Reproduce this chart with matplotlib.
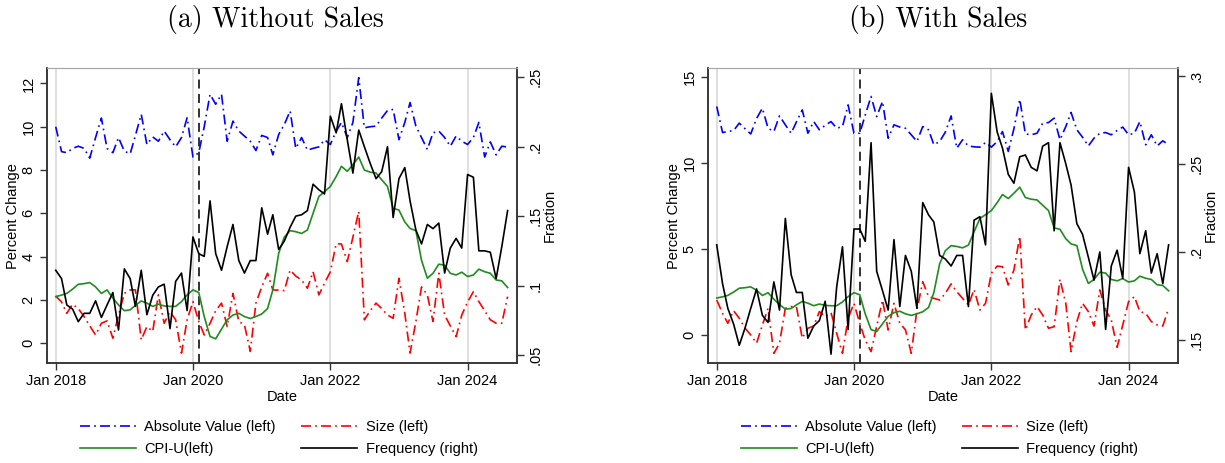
import matplotlib
matplotlib.use('Agg')
import matplotlib.pyplot as plt
import pandas as pd

# monthly series, Jan 2018 - Aug 2024
dates = pd.date_range('2018-01-01', periods=80, freq='MS')

cpi = [2.15, 2.22, 2.3, 2.5, 2.72, 2.75, 2.8, 2.6, 2.3, 2.46,
       2.08, 1.77, 1.5, 1.54, 1.75, 1.95, 1.85, 1.7, 1.8, 1.72,
       1.7, 1.7, 1.92, 2.23, 2.46, 2.34, 1.23, 0.31, 0.2, 0.65,
       1.08, 1.3, 1.38, 1.23, 1.14, 1.23, 1.35, 1.6, 2.46, 4.15,
       4.9, 5.2, 5.15, 5.07, 5.23, 6.0, 6.78, 7.0, 7.24, 7.7,
       8.17, 7.94, 8.25, 8.6, 8.0, 7.9, 7.86, 7.55, 7.24, 6.23,
       6.15, 5.6, 5.3, 5.2, 3.83, 3.0, 3.23, 3.65, 3.6, 3.23,
       3.15, 3.28, 3.08, 3.15, 3.42, 3.3, 3.23, 2.92, 2.88, 2.57]

# (a) without sales
abs_nosale = [10.0, 8.85, 8.8, 9.0, 9.1, 9.0, 8.55, 9.5, 10.4, 9.0,
              8.8, 9.5, 8.87, 8.75, 9.6, 10.57, 9.18, 9.53, 9.33, 9.8,
              9.4, 9.07, 9.5, 10.42, 8.6, 8.8, 10.0, 11.5, 11.04, 11.5,
              9.33, 10.26, 9.8, 9.57, 9.33, 8.9, 9.6, 9.5, 8.7, 9.64,
              10.1, 10.73, 9.0, 9.5, 8.92, 9.0, 9.07, 9.4, 9.18, 9.8,
              10.2, 9.5, 10.2, 12.27, 9.95, 10.0, 10.03, 10.4, 10.75, 10.8,
              9.4, 10.2, 11.12, 10.03, 9.5, 8.95, 9.72, 9.8, 9.5, 9.1,
              9.57, 9.33, 9.18, 9.5, 10.2, 8.6, 9.3, 8.7, 9.1, 9.06]
size_nosale = [2.18, 1.9, 1.38, 1.8, 1.6, 1.23, 0.8, 0.38, 0.92, 1.03,
               0.23, 1.3, 2.3, 2.46, 2.46, 0.15, 0.77, 0.54, 2.23, 0.92,
               1.46, 1.08, -0.46, 1.08, 1.92, 1.0, 0.38, 0.92, 1.5, 1.85,
               0.77, 2.3, 1.0, 0.85, -0.38, 1.85, 2.6, 3.23, 2.46, 2.45,
               2.43, 3.38, 3.1, 2.92, 2.54, 3.3, 2.23, 2.77, 3.3, 4.6,
               4.58, 3.77, 4.9, 6.09, 1.08, 1.5, 1.85, 1.6, 1.3, 1.15,
               3.0, 1.38, -0.46, 1.0, 2.6, 2.23, 1.0, 3.23, 1.3, 0.8,
               0.3, 1.3, 1.9, 2.38, 1.92, 1.5, 1.08, 0.92, 0.92, 2.15]
freq_nosale = [0.111, 0.105, 0.086, 0.083, 0.074, 0.080, 0.080, 0.089, 0.077, 0.086,
               0.095, 0.068, 0.112, 0.105, 0.085, 0.111, 0.079, 0.093, 0.099, 0.101,
               0.069, 0.103, 0.109, 0.082, 0.135, 0.123, 0.121, 0.161, 0.123, 0.111,
               0.128, 0.144, 0.118, 0.109, 0.118, 0.118, 0.156, 0.137, 0.151, 0.126,
               0.132, 0.142, 0.150, 0.151, 0.154, 0.173, 0.169, 0.166, 0.222, 0.210,
               0.231, 0.205, 0.181, 0.212, 0.200, 0.188, 0.177, 0.182, 0.200, 0.149,
               0.177, 0.185, 0.161, 0.140, 0.130, 0.144, 0.141, 0.145, 0.109, 0.127,
               0.134, 0.127, 0.180, 0.178, 0.125, 0.125, 0.124, 0.105, 0.128, 0.154]

# (b) with sales
abs_sale = [13.3, 11.78, 11.84, 11.9, 12.33, 12.0, 11.7, 12.6, 13.2, 12.03,
            11.84, 12.75, 12.23, 11.74, 12.4, 13.1, 11.74, 12.42, 11.94, 12.2,
            12.42, 12.03, 12.13, 13.39, 11.74, 11.74, 12.8, 13.88, 12.71, 13.59,
            11.45, 12.23, 12.1, 12.03, 11.65, 11.26, 12.13, 11.94, 11.07, 11.26,
            11.8, 12.75, 10.87, 11.36, 11.0, 10.95, 10.93, 11.2, 10.93, 11.26,
            11.84, 10.68, 12.0, 13.72, 11.7, 11.65, 11.74, 12.33, 12.36, 12.62,
            11.36, 12.13, 12.95, 11.94, 11.51, 11.0, 11.45, 11.74, 11.78, 11.65,
            11.9, 12.1, 11.65, 11.74, 12.42, 11.07, 11.65, 11.0, 11.3, 11.07]
size_sale = [2.03, 1.26, 0.68, 1.41, 0.97, 0.39, 0.0, -0.48, 0.58, 1.55,
             -1.07, -0.48, 1.55, 1.65, 1.65, -0.19, 0.39, 0.52, 1.36, 1.07,
             1.3, 0.1, -1.07, 0.97, 1.84, 0.68, -0.3, -0.97, 0.5, 2.03,
             0.29, 1.84, 0.68, 0.3, -1.07, 1.45, 3.1, 2.23, 2.13, 2.03,
             2.42, 2.97, 2.52, 2.13, 1.74, 2.65, 1.45, 1.84, 3.59, 4.01,
             3.97, 2.91, 3.78, 5.74, 0.29, 1.16, 1.65, 1.16, 0.39, 0.48,
             3.24, 1.84, -0.97, 0.78, 1.84, 1.36, 0.52, 2.62, 1.45, 0.87,
             -0.72, 0.58, 1.94, 2.23, 1.36, 1.26, 0.78, 0.58, 0.52, 1.55]
freq_sale = [0.204, 0.182, 0.168, 0.159, 0.147, 0.157, 0.168, 0.179, 0.164, 0.160,
             0.183, 0.167, 0.219, 0.187, 0.177, 0.177, 0.151, 0.158, 0.161, 0.172,
             0.142, 0.180, 0.203, 0.156, 0.213, 0.213, 0.206, 0.262, 0.189, 0.178,
             0.167, 0.207, 0.169, 0.198, 0.189, 0.168, 0.228, 0.221, 0.217, 0.198,
             0.196, 0.192, 0.198, 0.198, 0.169, 0.218, 0.220, 0.204, 0.290, 0.268,
             0.259, 0.244, 0.239, 0.254, 0.255, 0.248, 0.246, 0.260, 0.262, 0.212,
             0.262, 0.250, 0.238, 0.216, 0.210, 0.197, 0.184, 0.200, 0.156, 0.192,
             0.201, 0.185, 0.248, 0.234, 0.199, 0.212, 0.188, 0.199, 0.182, 0.204]

xtick_dates = pd.to_datetime(['2018-01-01', '2020-01-01', '2022-01-01', '2024-01-01'])
xtick_labels = ['Jan 2018', 'Jan 2020', 'Jan 2022', 'Jan 2024']
shock = pd.Timestamp('2020-02-01')
legend_labels = ['Absolute Value (left)', 'CPI-U(left)', 'Size (left)', 'Frequency (right)']

plt.rcParams['font.family'] = 'Liberation Sans'
fig = plt.figure(figsize=(12.25, 4.63), dpi=100)
W, H = 1225.0, 463.0


def panel(left_px, absval, size, freq, ylim, yticks, rlim, rticks, rlabels,
          title, title_x, leg_x):
    ax = fig.add_axes([left_px / W, 1 - 363.3 / H, 470.5 / W, 295.0 / H])
    ax.set_xlim(pd.Timestamp('2017-11-14'), pd.Timestamp('2024-09-21'))
    ax.set_ylim(ylim)
    for d in xtick_dates:
        ax.axvline(d, color='#dcdcdc', lw=1.3, zorder=0)
    ax.axvline(shock, color='#222222', lw=1.3, ls=(0, (5, 3)), zorder=1)
    l1, = ax.plot(dates, absval, color='#0000ff', lw=1.2, ls=(0, (6, 2.5, 1, 2.5)))
    l2, = ax.plot(dates, size, color='#ff0000', lw=1.2, ls=(0, (6, 2.5, 1, 2.5)))
    l3, = ax.plot(dates, cpi, color='#1f8c1f', lw=1.2)
    ax.set_xticks(xtick_dates)
    ax.set_xticklabels(xtick_labels, fontsize=10.5)
    ax.set_yticks(yticks)
    ax.set_yticklabels([str(t) for t in yticks], rotation=90, va='center', ha='right', fontsize=10.5)
    ax.tick_params(length=5, width=1, color='#333333', pad=3)
    ax.set_xlabel('Date', fontsize=10.5, labelpad=1)
    ax.set_ylabel('Percent Change', fontsize=10.5, labelpad=1)

    ax2 = ax.twinx()
    l4, = ax2.plot(dates, freq, color='black', lw=1.2)
    ax2.set_ylim(rlim)
    ax2.set_yticks(rticks)
    ax2.set_yticklabels(rlabels, rotation=90, va='center', ha='left', fontsize=10.5)
    ax2.tick_params(length=5, width=1, color='#333333', pad=3)
    ax2.set_ylabel('Fraction', fontsize=10.5, labelpad=0)

    for a in (ax, ax2):
        for s in ('left', 'right', 'bottom'):
            a.spines[s].set_color('#333333')
            a.spines[s].set_linewidth(1.1)
        a.spines['top'].set_color('#a8a8a8')

    fig.text(title_x / W, 1 - 20 / H, title, fontfamily='cmr10', fontsize=20,
             ha='center', va='center')
    ax.legend([l1, l3, l2, l4], legend_labels, ncol=2, loc='upper left',
              bbox_to_anchor=(leg_x / W, 1 - 420 / H), bbox_transform=fig.transFigure,
              frameon=False, fontsize=10.5, handlelength=3.84, handletextpad=0.55,
              columnspacing=1.78, borderpad=0, borderaxespad=0, labelspacing=0.58)


panel(46.7, abs_nosale, size_nosale, freq_nosale, (-0.93, 12.7), [0, 2, 4, 6, 8, 10, 12],
      (0.044, 0.2565), [0.05, 0.1, 0.15, 0.2, 0.25], ['.05', '.1', '.15', '.2', '.25'],
      '(a) Without Sales', 275, 80)
panel(707.7, abs_sale, size_sale, freq_sale, (-1.65, 15.52), [0, 5, 10, 15],
      (0.1368, 0.3042), [0.15, 0.2, 0.25, 0.3], ['.15', '.2', '.25', '.3'],
      '(b) With Sales', 938, 741)

fig.savefig('out.png', dpi=100)
